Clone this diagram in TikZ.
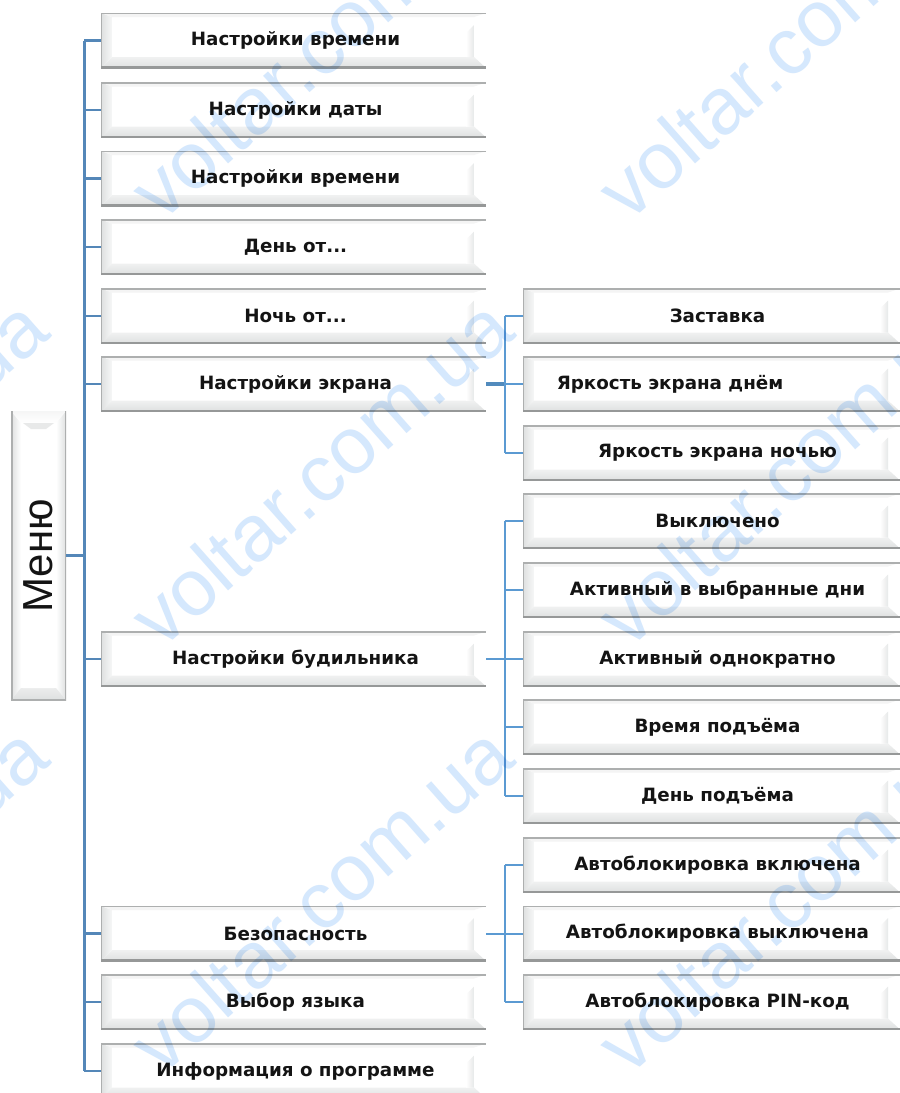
\documentclass[tikz,border=0pt]{standalone}
\usepackage{fontspec}
\setmainfont{DejaVu Sans}
\newfontfamily\menufont{Liberation Sans}
\usetikzlibrary{calc}
\definecolor{edgegray}{HTML}{ADAFAF}
\definecolor{edgedark}{HTML}{969898}
\definecolor{bevelgray}{HTML}{DEE0E0}
\definecolor{linkblue}{HTML}{5487B8}
\definecolor{sublink}{HTML}{5B9AD2}
\definecolor{markblue}{HTML}{D5E8FD}
\tikzset{
  x=1pt,y=-1pt,
  itembox/.style={rectangle,inner sep=0pt,minimum width=385pt,minimum height=55pt,
    font=\bfseries\fontsize{18.3}{20}\selectfont,text=black!92,
    execute at begin node=\kern4pt,
    path picture={
      \coordinate (A) at (path picture bounding box.north west);
      \coordinate (C) at (path picture bounding box.south east);
      \coordinate (B) at (path picture bounding box.north east);
      \coordinate (D) at (path picture bounding box.south west);
      \fill[white] (A) rectangle (C);
      \shade[top color=white!55!bevelgray,bottom color=bevelgray]
        ($(D)+(11pt,11pt)$) -- ($(C)+(-12pt,11pt)$) -- (C) -- (D) -- cycle;
      \shade[left color=bevelgray,right color=white!75!bevelgray]
        (A) -- ($(A)+(11pt,-4pt)$) -- ($(D)+(11pt,11pt)$) -- (D) -- cycle;
      \shade[left color=white,right color=bevelgray!75]
        ($(B)+(-20pt,-20pt)$) -- ($(B)+(-12pt,-12pt)$) -- ($(C)+(-12pt,11pt)$) -- ($(C)+(-20pt,11pt)$) -- cycle;
      \fill[bevelgray!35] (A) -- ($(A)+(11pt,-4pt)$) -- ($(B)+(-12pt,-4pt)$) -- (B) -- cycle;
      \draw[edgegray,line width=2.6pt] (D) -- (A) -- (B);
      \draw[edgedark,line width=3.4pt] (D) -- (C);
    }},
  subbox/.style={itembox,minimum width=377pt,execute at begin node=\kern8pt},
  rootbox/.style={rectangle,inner sep=0pt,minimum width=55pt,minimum height=289pt,
    path picture={
      \coordinate (A) at (path picture bounding box.north west);
      \coordinate (C) at (path picture bounding box.south east);
      \coordinate (B) at (path picture bounding box.north east);
      \coordinate (D) at (path picture bounding box.south west);
      \fill[white] (A) rectangle (C);
      \shade[left color=bevelgray,right color=white] (A) -- ($(A)+(10pt,-12pt)$) -- ($(D)+(10pt,12pt)$) -- (D) -- cycle;
      \shade[left color=white,right color=bevelgray] (B) -- ($(B)+(-10pt,-12pt)$) -- ($(C)+(-10pt,12pt)$) -- (C) -- cycle;
      \shade[top color=bevelgray!30,bottom color=white] (A) -- ($(A)+(10pt,-12pt)$) -- ($(B)+(-10pt,-12pt)$) -- (B) -- cycle;
      \fill[bevelgray!70] ($(A)+(12pt,-12pt)$) -- ($(B)+(-12pt,-12pt)$) -- ($(B)+(-20pt,-18pt)$) -- ($(A)+(20pt,-18pt)$) -- cycle;
      \shade[top color=bevelgray!60,bottom color=bevelgray] (D) -- ($(D)+(10pt,12pt)$) -- ($(C)+(-10pt,12pt)$) -- (C) -- cycle;
      \fill[white] ($(D)+(12pt,12pt)$) -- ($(D)+(21pt,22pt)$) -- ($(C)+(-21pt,22pt)$) -- ($(C)+(-12pt,12pt)$) -- cycle;
      \draw[edgegray,line width=3pt] (A) -- (D) -- (C) -- (B);
    }},
  trunk/.style={draw=linkblue,line width=3pt},
  stub/.style={draw=linkblue,line width=2.2pt},
  subtrunk/.style={draw=sublink,line width=2pt},
  thicklink/.style={draw=sublink!90!black,line width=4pt},
  watermark/.style={text=markblue,font=\menufont\fontsize{80}{84}\selectfont,rotate=41.5,anchor=base west,inner sep=0pt,blend mode=multiply}
}
\begin{document}
\begin{tikzpicture}
\useasboundingbox (0,0) rectangle (900,1093);
\fill[white] (0,0) rectangle (900,1093);
% tree
\node[rootbox] (root) at (38.5,555.5) {};
\node[rotate=90,font=\menufont\fontsize{42}{44}\selectfont,text=black!92] (rootlabel) at (38,556) {Меню};
\node[itembox] (a1) at (293.5,40.5) {Настройки времени};
\node[itembox] (a2) at (293.5,110) {Настройки даты};
\node[itembox] (a3) at (293.5,178.5) {Настройки времени};
\node[itembox] (a4) at (293.5,247) {День от...};
\node[itembox] (a5) at (293.5,316) {Ночь от...};
\node[itembox] (a6) at (293.5,384) {Настройки экрана};
\node[itembox] (a7) at (293.5,659) {Настройки будильника};
\node[itembox] (a8) at (293.5,933.5) {Безопасность};
\node[itembox] (a9) at (293.5,1002) {Выбор языка};
\node[itembox] (a10) at (293.5,1071) {Информация о программе};
\node[subbox] (b1) at (711.5,316) {Заставка};
\node[subbox,execute at begin node=\kern-95pt] (b2) at (711.5,384) {Яркость экрана днём};
\node[subbox] (b3) at (711.5,453) {Яркость экрана ночью};
\node[subbox] (c1) at (711.5,521) {Выключено};
\node[subbox] (c2) at (711.5,590) {Активный в выбранные дни};
\node[subbox] (c3) at (711.5,659) {Активный однократно};
\node[subbox] (c4) at (711.5,727) {Время подъёма};
\node[subbox] (c5) at (711.5,796) {День подъёма};
\node[subbox] (d1) at (711.5,865) {Автоблокировка включена};
\node[subbox] (d2) at (711.5,933.5) {Автоблокировка выключена};
\node[subbox] (d3) at (711.5,1002) {Автоблокировка PIN-код};
% connectors
\coordinate (bus) at (84,555.5);
\draw[stub] (root.east) -- (bus);
\draw[trunk] (a1.west -| bus) -- (a10.west -| bus);
\foreach \n in {a1,a2,a3,a4,a5,a6,a7,a8,a9,a10} \draw[stub] (\n.west -| bus) -- (\n.west);
\coordinate (busx) at (505,0);
\draw[thicklink] (a6.east) -- (a6.east -| busx);
\draw[subtrunk] (a7.east) -- (a7.east -| busx);
\draw[subtrunk] (a8.east) -- (a8.east -| busx);
\draw[subtrunk] (b1.west -| busx) -- (b3.west -| busx);
\draw[subtrunk] (c1.west -| busx) -- (c5.west -| busx);
\draw[subtrunk] (d1.west -| busx) -- (d3.west -| busx);
\foreach \n in {b1,b2,b3,c1,c2,c3,c4,c5,d1,d2,d3} \draw[subtrunk] (\n.west -| busx) -- (\n.west);
% watermark
\foreach \wx/\wy [count=\i] in {-304/651,-304/1078,161/224,161/651,161/1078,628/224,628/651,628/1078}
  \node[watermark] (wm\i) at (\wx,\wy) {voltar.com.ua};
\end{tikzpicture}
\end{document}
